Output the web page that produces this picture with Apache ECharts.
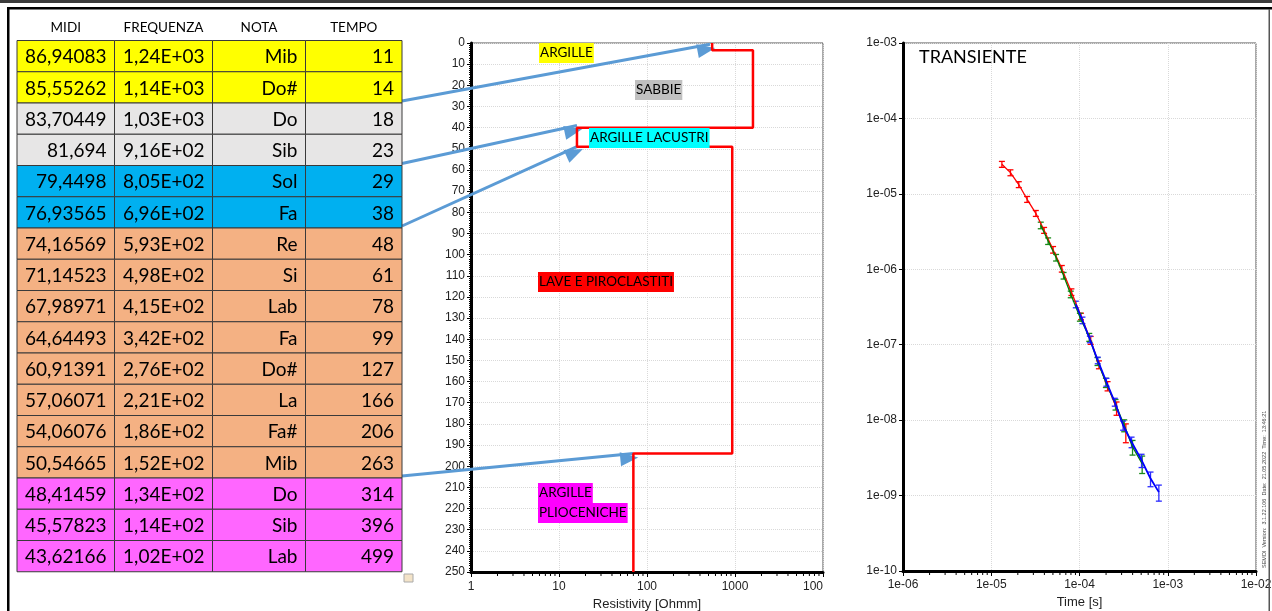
<!DOCTYPE html>
<html>
<head>
<meta charset="utf-8">
<title>Sondaggio TEM</title>
<script src="https://cdn.jsdelivr.net/npm/echarts@6.0.0/dist/echarts.min.js"></script>
<style>
  html, body { margin: 0; padding: 0; background: #fff; }
  #chart { width: 1272px; height: 611px; }
</style>
</head>
<body>
<div id="chart"></div>
<script>
// tabella note
const headers = ['MIDI', 'FREQUENZA', 'NOTA', 'TEMPO']
const midi = ['86,94083', '85,55262', '83,70449', '81,694', '79,4498', '76,93565', '74,16569', '71,14523', '67,98971',
  '64,64493', '60,91391', '57,06071', '54,06076', '50,54665', '48,41459', '45,57823', '43,62166']
const freq = ['1,24E+03', '1,14E+03', '1,03E+03', '9,16E+02', '8,05E+02', '6,96E+02', '5,93E+02', '4,98E+02', '4,15E+02',
  '3,42E+02', '2,76E+02', '2,21E+02', '1,86E+02', '1,52E+02', '1,34E+02', '1,14E+02', '1,02E+02']
const nota = ['Mib', 'Do#', 'Do', 'Sib', 'Sol', 'Fa', 'Re', 'Si', 'Lab', 'Fa', 'Do#', 'La', 'Fa#', 'Mib', 'Do', 'Sib', 'Lab']
const tempo = [11, 14, 18, 23, 29, 38, 48, 61, 78, 99, 127, 166, 206, 263, 314, 396, 499]
// strato di ogni riga (0 argille ... 4 argille plioceniche)
const rowLayer = [0, 0, 1, 1, 2, 2, 3, 3, 3, 3, 3, 3, 3, 3, 4, 4, 4]

// modello di resistivita' (Ohmm) e tetto degli strati (m)
const modelRho = [550, 1600, 16, 930, 70]
const modelTop = [0, 3.4, 40, 49, 194]
const modelBottom = 250
// frecce: riga del limite in tabella -> punto del modello [rho, prof]
const arrowRow = [2, 4, 6, 14]
const arrowTo = [[520, 0.6], [16, 39], [16, 49], [70, 194]]

// transiente: tempo [s], valore, errore relativo
const redT = [1.32e-5, 1.65e-5, 2.05e-5, 2.55e-5, 3.2e-5, 3.97e-5, 5.02e-5, 6.3e-5, 8.1e-5, 1.04e-4, 1.34e-4, 1.66e-4, 2.08e-4, 2.63e-4, 3.35e-4]
const redV = [2.47e-5, 1.91e-5, 1.33e-5, 8.47e-6, 5.52e-6, 3.29e-6, 1.82e-6, 1.02e-6, 5.0e-7, 2.38e-7, 1.15e-7, 5.45e-8, 2.84e-8, 1.45e-8, 6.97e-9]
const redE = [0.09, 0.09, 0.09, 0.09, 0.09, 0.09, 0.1, 0.1, 0.1, 0.1, 0.12, 0.12, 0.14, 0.2, 0.28]
const greenT = [3.64e-5, 4.41e-5, 5.43e-5, 6.6e-5, 7.96e-5, 1.01e-4, 1.29e-4, 1.6e-4, 1.99e-4, 2.56e-4, 3.21e-4, 3.99e-4, 5.13e-4]
const greenV = [3.83e-6, 2.37e-6, 1.43e-6, 8.25e-7, 4.66e-7, 2.33e-7, 1.26e-7, 6.03e-8, 3.15e-8, 1.62e-8, 8.55e-9, 4.41e-9, 2.65e-9]
const greenE = [0.1, 0.1, 0.1, 0.1, 0.1, 0.12, 0.12, 0.12, 0.14, 0.16, 0.18, 0.22, 0.26]
const blueT = [9.08e-5, 1.08e-4, 1.31e-4, 1.61e-4, 2.02e-4, 2.51e-4, 3.12e-4, 3.89e-4, 5.05e-4, 6.38e-4, 7.93e-4]
const blueV = [3.43e-7, 2.11e-7, 1.18e-7, 6.21e-8, 3.2e-8, 1.74e-8, 8.55e-9, 5.13e-9, 2.94e-9, 1.68e-9, 1.11e-9]
const blueE = [0.1, 0.1, 0.1, 0.1, 0.12, 0.12, 0.14, 0.16, 0.2, 0.22, 0.24]

// etichette assi
const resTicks = ['1', '10', '100', '1000', '100']
const timeTicks = ['1e-06', '1e-05', '1e-04', '1e-03', '1e-02']
const ampTicks = ['1e-10', '1e-09', '1e-08', '1e-07', '1e-06', '1e-05', '1e-04', '1e-03']

const layerFill = ['#ffff00', '#e7e6e6', '#00b0f0', '#f4b183', '#ff66ff']
const colEdges = [17, 114.5, 212.5, 305.5, 402]
const rowTop = 40.5
const rowH = 31.25
const excelFont = 'Lato'

const chart = echarts.init(document.getElementById('chart'), null, { renderer: 'canvas' })

// ---- tabella (graphic) ----
const graphic = []
const cols = [midi, freq, nota, tempo]
headers.forEach((h, c) => {
  graphic.push({
    type: 'text', z: 10,
    style: {
      text: h, x: (colEdges[c] + colEdges[c + 1]) / 2, y: 28, align: 'center', verticalAlign: 'middle',
      fontFamily: excelFont, fontSize: 13.5, fill: '#000'
    }
  })
})
for (let r = 0; r < midi.length; r++) {
  for (let c = 0; c < 4; c++) {
    const x0 = colEdges[c]
    const y0 = rowTop + r * rowH
    graphic.push({
      type: 'rect', z: 10,
      shape: { x: x0, y: y0, width: colEdges[c + 1] - x0, height: rowH },
      style: { fill: layerFill[rowLayer[r]], stroke: '#3a3a3a', lineWidth: 1 }
    })
    graphic.push({
      type: 'text', z: 11,
      style: {
        text: String(cols[c][r]), x: colEdges[c + 1] - 8, y: y0 + rowH / 2 + 1,
        align: 'right', verticalAlign: 'middle', fontFamily: excelFont, fontSize: 19, fill: '#000'
      }
    })
  }
}

// cornice
graphic.push(
  { type: 'rect', z: 20, shape: { x: 0, y: 0, width: 1272, height: 3 }, style: { fill: '#3c3c3c' } },
  { type: 'rect', z: 20, shape: { x: 7, y: 7, width: 1265, height: 2.5 }, style: { fill: '#000' } },
  { type: 'rect', z: 20, shape: { x: 7, y: 7, width: 2.5, height: 604 }, style: { fill: '#000' } },
  { type: 'rect', z: 20, shape: { x: 1268.5, y: 9, width: 1.5, height: 602 }, style: { fill: '#555' } },
  { type: 'rect', z: 20, shape: { x: 404, y: 574, width: 9, height: 8 }, style: { fill: '#f3e3c8', stroke: '#aaa', lineWidth: 1 } }
)

// etichette strati
function layerLabel(text, x, y, bg) {
  return {
    type: 'text', z: 30,
    style: {
      text, x, y, fontFamily: excelFont, fontSize: 13.5, fill: '#000',
      backgroundColor: bg, padding: [2, 1, 2, 1], lineHeight: 16
    }
  }
}
graphic.push(
  layerLabel('ARGILLE', 539, 43, '#ffff00'),
  layerLabel('SABBIE', 635, 80, '#c0c0c0'),
  layerLabel('ARGILLE LACUSTRI', 589, 128, '#00ffff'),
  layerLabel('LAVE E PIROCLASTITI', 538, 272, '#ff0000'),
  layerLabel('ARGILLE', 538, 483, '#ff00ff'),
  layerLabel('PLIOCENICHE', 538, 503, '#ff00ff')
)
graphic.push({
  type: 'text', z: 30,
  style: { text: 'TRANSIENTE', x: 919, y: 57, verticalAlign: 'middle', fontFamily: excelFont, fontSize: 18, fill: '#000' }
})
graphic.push({
  type: 'text', z: 30, x: 1264, y: 568, rotation: Math.PI / 2,
  style: {
    text: 'SEMDI  Version:  3.1.22.106  Date:  21.05.2022  Time:  13:46:21', x: 0, y: 0,
    verticalAlign: 'middle', fontFamily: 'Liberation Sans', fontSize: 5.5, fill: '#444'
  }
})

// ---- dati serie ----
const stepData = []
modelRho.forEach((rho, i) => {
  const bottom = i < modelRho.length - 1 ? modelTop[i + 1] : modelBottom
  stepData.push([rho, modelTop[i]], [rho, bottom])
})

const arrowData = arrowRow.map((row, i) => [
  { x: colEdges[4], y: rowTop + row * rowH - 2 },
  { coord: arrowTo[i] }
])

function errData(t, v, e) {
  return t.map((tt, i) => [tt, v[i], v[i] * (1 - e[i]), v[i] * (1 + e[i])])
}
function lineData(t, v) {
  return t.map((tt, i) => [tt, v[i]])
}

function renderErr(color) {
  return function (params, api) {
    const p = api.coord([api.value(0), api.value(1)])
    const lo = api.coord([api.value(0), api.value(2)])
    const hi = api.coord([api.value(0), api.value(3)])
    const style = { stroke: color, lineWidth: 1.3 }
    return {
      type: 'group',
      children: [
        { type: 'line', shape: { x1: p[0], y1: hi[1], x2: p[0], y2: lo[1] }, style },
        { type: 'line', shape: { x1: p[0] - 3, y1: hi[1], x2: p[0] + 3, y2: hi[1] }, style },
        { type: 'line', shape: { x1: p[0] - 3, y1: lo[1], x2: p[0] + 3, y2: lo[1] }, style }
      ]
    }
  }
}

// tacche minori sugli assi logaritmici (2..9 per decade)
const resMinor = []
for (let k = 0; k < 4; k++) for (let m = 2; m < 10; m++) resMinor.push([m * Math.pow(10, k), modelBottom])
const timeMinor = []
for (let k = -6; k < -2; k++) for (let m = 2; m < 10; m++) timeMinor.push([m * Math.pow(10, k), 1e-10])

function renderMinor(params, api) {
  const p = api.coord([api.value(0), api.value(1)])
  return { type: 'line', shape: { x1: p[0], y1: p[1] + 1, x2: p[0], y2: p[1] + 4 }, style: { stroke: '#000', lineWidth: 1 } }
}

const splitLine = { show: true, lineStyle: { type: 'dotted', color: '#d9d9d9', width: 1 } }
const labelStyle = { fontFamily: 'Liberation Sans', fontSize: 12, color: '#222' }
const nameStyle = { fontFamily: 'Liberation Sans', fontSize: 13, color: '#222' }

chart.setOption({
  animation: false,
  graphic: graphic,
  grid: [
    { left: 471, top: 43, width: 352, height: 529, show: true, borderColor: '#555', borderWidth: 1, backgroundColor: '#fff', outerBoundsMode: 'none' },
    { left: 903, top: 43, width: 353, height: 528, show: true, borderColor: '#555', borderWidth: 1, backgroundColor: '#fff', outerBoundsMode: 'none' }
  ],
  xAxis: [
    {
      gridIndex: 0, type: 'log', logBase: 10, min: 1, max: 10000, splitNumber: 4,
      name: 'Resistivity [Ohmm]', nameLocation: 'middle', nameGap: 23, nameTextStyle: nameStyle,
      axisLine: { onZero: false, lineStyle: { color: '#000', width: 3 } },
      axisTick: { length: 5, lineStyle: { color: '#000' } },
      axisLabel: Object.assign({
        margin: 9, showMinLabel: true, showMaxLabel: true,
        formatter: v => {
          const i = Math.round(Math.log10(v))
          return i === 4 ? '{cut|' + resTicks[i] + '}' : resTicks[i]
        },
        rich: { cut: { fontFamily: 'Liberation Sans', fontSize: 12, color: '#222', padding: [0, 20, 0, 0] } }
      }, labelStyle),
      splitLine
    },
    {
      gridIndex: 1, type: 'log', logBase: 10, min: 1e-6, max: 1e-2, splitNumber: 4,
      name: 'Time [s]', nameLocation: 'middle', nameGap: 22, nameTextStyle: nameStyle,
      axisLine: { onZero: false, lineStyle: { color: '#000', width: 3 } },
      axisTick: { length: 5, lineStyle: { color: '#000' } },
      axisLabel: Object.assign({
        margin: 8, showMinLabel: true, showMaxLabel: true,
        formatter: v => timeTicks[Math.round(Math.log10(v)) + 6]
      }, labelStyle),
      splitLine
    }
  ],
  yAxis: [
    {
      gridIndex: 0, type: 'value', inverse: true, min: 0, max: 250, interval: 10,
      axisLine: { onZero: false, lineStyle: { color: '#000', width: 3 } },
      axisTick: { length: 4, lineStyle: { color: '#000' } },
      minorTick: { show: true, splitNumber: 10, length: 2, lineStyle: { color: '#000' } },
      axisLabel: Object.assign({ margin: 6, interval: 0, showMinLabel: true, showMaxLabel: true }, labelStyle),
      splitLine
    },
    {
      gridIndex: 1, type: 'log', logBase: 10, min: 1e-10, max: 1e-3, splitNumber: 7,
      axisLine: { onZero: false, lineStyle: { color: '#000', width: 3 } },
      axisTick: { length: 4, lineStyle: { color: '#000' } },
      axisLabel: Object.assign({
        margin: 6, showMinLabel: true, showMaxLabel: true,
        formatter: v => ampTicks[Math.round(Math.log10(v)) + 10]
      }, labelStyle),
      splitLine
    }
  ],
  series: [
    {
      name: 'modello', type: 'line', xAxisIndex: 0, yAxisIndex: 0, data: stepData,
      showSymbol: false, clip: false, z: 5,
      lineStyle: { color: '#ff0000', width: 2.5 },
      markLine: {
        silent: true, symbol: ['none', 'triangle'], symbolSize: [14, 18], symbolOffset: [0, 4.5],
        label: { show: false }, emphasis: { disabled: true },
        lineStyle: { color: '#5b9bd5', width: 3, type: 'solid' },
        data: arrowData
      }
    },
    { type: 'custom', xAxisIndex: 0, yAxisIndex: 0, data: resMinor, renderItem: renderMinor, clip: false, silent: true },
    { type: 'custom', xAxisIndex: 1, yAxisIndex: 1, data: timeMinor, renderItem: renderMinor, clip: false, silent: true },
    { name: 'rosso', type: 'line', xAxisIndex: 1, yAxisIndex: 1, data: lineData(redT, redV), showSymbol: false, lineStyle: { color: '#ff0000', width: 1.3 } },
    { type: 'custom', xAxisIndex: 1, yAxisIndex: 1, data: errData(redT, redV, redE), renderItem: renderErr('#ff0000'), silent: true },
    { name: 'verde', type: 'line', xAxisIndex: 1, yAxisIndex: 1, data: lineData(greenT, greenV), showSymbol: false, lineStyle: { color: '#008000', width: 1.3 } },
    { type: 'custom', xAxisIndex: 1, yAxisIndex: 1, data: errData(greenT, greenV, greenE), renderItem: renderErr('#1a8a1a'), silent: true },
    { name: 'blu', type: 'line', xAxisIndex: 1, yAxisIndex: 1, data: lineData(blueT, blueV), showSymbol: false, lineStyle: { color: '#0000ff', width: 1.8 } },
    { type: 'custom', xAxisIndex: 1, yAxisIndex: 1, data: errData(blueT, blueV, blueE), renderItem: renderErr('#2a2aff'), silent: true }
  ]
})
</script>
</body>
</html>
